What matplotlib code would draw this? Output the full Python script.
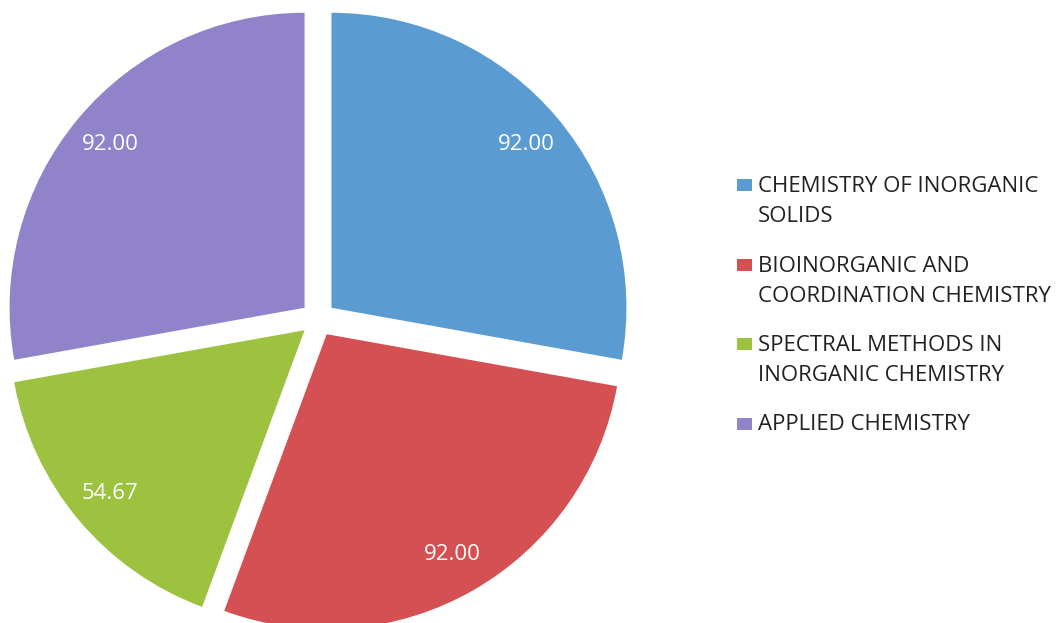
import matplotlib
matplotlib.use("Agg")
import matplotlib.pyplot as plt
from matplotlib.patches import Rectangle

categories = ["CHEMISTRY OF INORGANIC\nSOLIDS",
              "BIOINORGANIC AND\nCOORDINATION CHEMISTRY",
              "SPECTRAL METHODS IN\nINORGANIC CHEMISTRY",
              "APPLIED CHEMISTRY"]
values = [92.00, 92.00, 54.67, 92.00]
colors = ["#5A9BD2", "#D55052", "#9DC23F", "#9183C9"]

plt.rcParams['font.family'] = ['Open Sans', 'DejaVu Sans']

W, H = 1064, 623
fig = plt.figure(figsize=(W / 100, H / 100), dpi=100)
ax = fig.add_axes([0, 0, 1, 1])

R = 295
total = sum(values)
wedges, texts, autotexts = ax.pie(
    values, colors=colors, startangle=90, counterclock=False,
    center=(318, H - 319), radius=R, explode=[17.5] * len(values),
    autopct=lambda p: f"{p * total / 100:.2f}", pctdistance=0.86,
    textprops=dict(color="white", fontsize=16),
    wedgeprops=dict(linewidth=0))
ax.set_xlim(0, W)
ax.set_ylim(0, H)
ax.set_aspect('equal')
ax.axis('off')

# legend (pixel layout, top-down)
first_cap_top = 178
entry_step = 79.5
line_step = 30
cap_h = 14
for i, (cat, col) in enumerate(zip(categories, colors)):
    top = first_cap_top + i * entry_step
    ax.add_patch(Rectangle((737, H - (top + 13)), 15, 12, facecolor=col,
                           edgecolor='none'))
    for j, line in enumerate(cat.split("\n")):
        base = top + cap_h + j * line_step
        ax.text(758, H - base, line, fontsize=16, color="#222222",
                ha='left', va='baseline')

fig.savefig("out.png", dpi=100)
